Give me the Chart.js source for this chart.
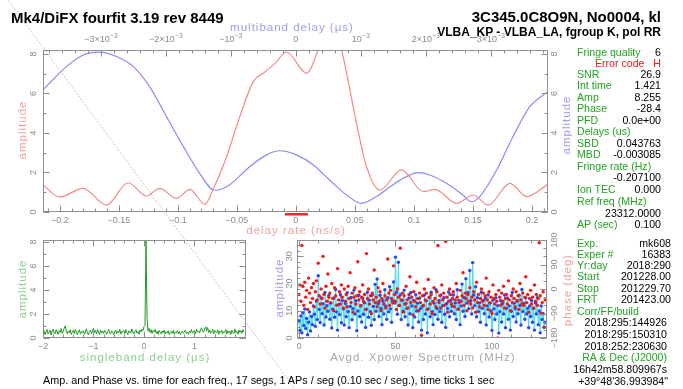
<!DOCTYPE html>
<html>
<head>
<meta charset="utf-8">
<script src="https://cdn.jsdelivr.net/npm/chart.js@4.4.1/dist/chart.umd.min.js"></script>
<style>
html, body { margin: 0; padding: 0; background: #fff; }
#page { position: relative; width: 683px; height: 389px; overflow: hidden; font-family: "Liberation Sans", Arial, sans-serif; }
#page canvas, #page svg { position: absolute; left: 0; top: 0; }
.t { position: absolute; white-space: nowrap; line-height: 1; }
.l { transform: translate(0, -50%); }
.r { transform: translate(-100%, -50%); }
.c { transform: translate(-50%, -50%); }
.v { transform: translate(-50%, -50%) rotate(-90deg); }
.big { font-weight: bold; font-size: 15px; color: #000; }
.sub { font-weight: bold; font-size: 12px; color: #000; }
.ax { font-size: 11.5px; letter-spacing: 1px; }
.pan { font-size: 10.6px; }
.cap { font-size: 10.8px; color: #000; }
</style>
</head>
<body>
<div id="page">
  <canvas id="cTop" width="683" height="389"></canvas>
  <canvas id="cSbd" width="683" height="389"></canvas>
  <canvas id="cXp" width="683" height="389"></canvas>
  <svg width="683" height="389"><line x1="8" y1="0" x2="295" y2="389" stroke="#c4c4c4" stroke-width="1" stroke-dasharray="2 1.5"/></svg>
</div>
<script>
// delay rate function (ns/s) and its amplitude
const rateNs = [-0.2142, -0.2, -0.1803, -0.1604, -0.1421, -0.1265, -0.1153, -0.1011, -0.0898, -0.0771,
  -0.0701, -0.0587, -0.0475, -0.036, -0.026, -0.018, -0.0079, 0.0091, 0.0189, 0.029, 0.0387,
  0.0514, 0.0599, 0.0712, 0.0896, 0.1079, 0.1178, 0.1362, 0.1503, 0.163, 0.1814, 0.1955, 0.2136];
const rateAmp = [1.37, 0.76, 1.2, 0.35, 1.48, 0.81, 1.2, 0.69, 1.15, 0.39,
  1.15, 2.8, 4.83, 6.6, 7.1, 7.5, 8.1, 7.02, 8.2, 9.8, 8.2,
  4.49, 2.29, 1.11, 2.13, 1.03, 1.15, 0.44, 0.86, 0.35, 1.45, 0.78, 1.4];

// multiband delay function (us) and its amplitude
const mbdUs = [-0.00389, -0.00353, -0.00327, -0.00302, -0.00276, -0.0025, -0.00225, -0.00199, -0.00173, -0.00148,
  -0.00125, -0.00105, -0.00071, -0.00045, -0.00025, 0.00001, 0.00027, 0.00052, 0.00078, 0.00101,
  0.00124, 0.00145, 0.0017, 0.00188, 0.00206, 0.00232, 0.00257, 0.0027, 0.00283, 0.00309,
  0.00334, 0.0036, 0.00388];
const mbdAmp = [6.18, 7.36, 7.95, 8.09, 7.87, 7.36, 6.35, 4.83, 3.31, 1.96,
  1.1, 1.3, 2.29, 2.89, 3.1, 2.89, 2.38, 1.62, 0.86, 0.44,
  0.78, 1.28, 1.79, 1.99, 1.87, 1.45, 0.86, 0.52, 0.78, 2.13,
  3.81, 5.33, 6.1];

// rate search window marked under the delay-rate axis (ns/s)
const rateWindow = [-0.0093, 0.0102];

// singleband delay function, samples every 0.02 us from -2 us
const sbdStart = -2, sbdStep = 0.02;
const sbdAmp = [
  0.45,0.62,0.28,0.55,0.71,0.33,0.48,0.66,0.25,0.58,0.74,0.41,0.36,0.69,0.52,0.30,0.61,0.47,0.78,0.39,
  0.56,0.82,1.02,0.64,0.35,0.57,0.43,0.70,0.29,0.51,0.63,0.38,0.72,0.46,0.27,0.59,0.68,0.34,0.53,0.44,
  0.60,0.31,0.49,0.77,0.40,0.26,0.54,0.65,0.37,0.58,0.81,0.45,0.62,0.33,0.71,0.50,0.28,0.66,0.43,0.57,
  0.39,0.64,0.47,0.30,0.55,0.72,0.41,0.35,0.60,0.48,0.27,0.52,0.67,0.38,0.58,0.44,0.73,0.32,0.56,0.49,
  0.63,0.36,0.70,0.45,0.29,0.61,0.53,0.40,0.76,0.47,0.34,0.59,0.68,0.42,0.55,0.31,0.66,0.50,0.74,0.62,
  0.95,1.05,8.15,1.70,0.58,0.80,0.46,0.69,0.37,0.62,0.51,0.73,0.40,0.57,0.30,0.64,0.48,0.36,0.59,0.44,
  0.67,0.33,0.52,0.41,0.60,0.28,0.47,0.56,0.38,0.65,0.32,0.50,0.43,0.61,0.35,0.54,0.29,0.46,0.58,0.39,
  0.52,0.66,0.37,0.48,0.31,0.57,0.44,0.70,0.40,0.53,0.62,0.36,0.75,0.49,0.59,0.42,0.68,0.85,0.55,0.47,
  0.72,0.94,0.61,0.88,0.45,0.67,0.39,0.56,0.74,0.34,0.63,0.50,0.41,0.69,0.30,0.58,0.46,0.64,0.37,0.54,
  0.48,0.71,0.33,0.60,0.42,0.57,0.29,0.65,0.50,0.38,0.76,0.44,0.55,0.31,0.68,0.47,0.62,0.40,0.70,0.52];

// averaged cross-power spectrum, 0.5 MHz channels from 0 MHz
const xpStep = 0.5;
const xpAmp = [
  6.4,2.8,8.1,1.9,9.3,4.6,10.7,3.5,7.2,1.2,5.8,9.6,2.6,7.9,4.9,11.8,
  8.7,4.3,13.6,6.8,22.9,10.5,5.7,14.8,8.9,12.6,4.8,16.7,7.7,11.9,9.8,15.6,
  6.9,12.8,3.7,10.6,14.7,7.6,17.8,9.6,2.9,12.3,8.6,15.9,5.6,13.8,10.7,4.8,
  12.7,7.8,16.6,9.7,3.8,11.6,14.9,6.7,10.8,17.6,8.8,13.7,2.7,9.9,15.7,7.9,
  11.8,5.9,14.6,8.7,12.9,3.9,10.6,16.8,7.6,13.9,9.7,4.7,15.8,11.6,6.8,19.7,
  9.8,21.7,12.7,7.9,15.7,10.8,4.9,13.6,8.8,17.7,11.7,6.9,14.8,9.6,18.8,10.7,
  5.8,13.7,20.6,12.8,29.7,16.8,8.7,27.8,11.9,15.8,6.8,13.9,9.8,17.6,7.8,12.7,
  10.9,4.8,14.7,8.9,16.7,11.8,3.8,13.8,7.7,15.9,9.9,12.8,5.9,14.7,10.8,2.9,
  11.7,6.8,15.8,8.8,13.7,1.9,10.7,14.9,7.8,16.8,9.7,4.9,12.8,8.6,17.7,10.8,
  6.9,13.8,9.7,15.8,5.8,11.9,14.8,8.7,3.9,12.7,10.8,16.9,7.8,13.7,9.8,11.7,
  15.8,8.9,12.9,6.8,17.7,10.7,13.8,4.9,11.8,19.8,9.8,14.9,7.9,21.8,12.8,16.7,
  10.8,24.8,13.7,8.8,27.7,15.8,11.9,18.8,7.8,14.8,9.7,12.9,5.8,16.8,10.9,13.8,
  8.9,14.7,4.8,11.8,15.9,7.7,12.8,9.9,2.8,13.9,10.7,6.8,14.8,8.8,11.9,1.8,
  9.7,13.8,5.9,12.7,8.8,15.8,3.8,10.9,14.7,6.9,11.8,2.9,9.8,16.7,7.9,12.8,
  10.8,5.9,13.8,8.9,15.7,11.9,4.8,17.8,9.7,12.8,6.9,14.8,8.8,10.9,3.8,11.8,
  7.9,13.8,5.8,10.8,2.9,12.9,8.8,14.8,4.9,9.9,1.9,11.8,6.8,8.9,3.9,5.8];
const xpPhase = [
  -20,15,-45,160,10,-60,25,-30,-5,-75,40,-15,-50,5,-35,20,
  -65,-10,30,-40,95,-25,-55,0,-35,120,-20,-70,10,-45,55,-30,
  -15,-50,20,-35,-80,5,-25,-60,75,-40,-10,-55,15,-30,-70,0,
  -45,-20,-65,10,-35,60,-50,-15,-85,-30,5,-55,-25,100,-40,-10,
  -60,-30,15,-45,-20,-75,130,-35,0,-55,-25,-90,-15,-40,70,-50,
  -30,-65,5,-45,-10,-80,-35,20,-55,-25,-70,-40,110,-15,-60,-5,
  -35,-50,85,-20,-45,-75,0,-30,-60,150,-40,-15,-85,-25,-55,10,
  -40,-70,-20,45,-50,-30,-95,-10,-45,-65,25,-35,-80,-15,-50,-170,
  -25,-60,0,-40,-15,-75,35,-30,-55,-20,-90,-45,5,-35,-65,-10,
  160,-50,-25,-70,15,-40,-15,-60,175,-30,-85,-45,0,-20,-55,-35,
  -10,-65,-40,20,-30,-75,-50,-5,-45,-25,60,-60,-15,-35,-80,-20,
  -45,5,-55,-30,-70,-10,-40,-85,25,-50,-20,-65,-35,0,-45,-15,
  -60,-25,40,-40,-75,-10,-50,-30,-90,15,-35,-55,-20,-45,-180,-5,
  -30,-60,-15,-45,10,-70,-35,-20,-55,30,-40,-80,-25,-50,0,-35,
  -65,-10,-45,-25,-75,20,-40,-55,-15,-60,-30,45,-50,-20,-85,-35,
  -5,-55,-30,-70,15,-45,-20,-60,-35,170,-25,-90,-50,-10,-140,-40];

const FRAME = '#8e8e8e';
const TICKTXT = '#8a8a8a';
const LIGHT_RED = '#f08a8a';
const LIGHT_BLUE = '#8a8af2';
const TITLE_RED = '#f2a0a0';
const TITLE_BLUE = '#9c9cf2';
const TITLE_GREEN = '#8fce8f';

// minus sign like the plotting package uses
function signed(v) {
  const s = String(Math.abs(+v.toFixed(4)));
  return v < -1e-12 ? '\u2212' + s : s;
}

function stepsIn(scale, step) {
  const out = [];
  const k0 = Math.ceil(scale.min / step - 1e-6);
  const k1 = Math.floor(scale.max / step + 1e-6);
  for (let k = k0; k <= k1; k++) out.push(k * step);
  return out;
}

function drawLabel(ctx, lab, x, y, rotate) {
  const base = typeof lab === 'string' ? lab : lab.base;
  const sup = typeof lab === 'string' ? '' : lab.sup;
  ctx.save();
  ctx.translate(x, y);
  if (rotate) ctx.rotate(-Math.PI / 2);
  ctx.fillStyle = TICKTXT;
  ctx.textBaseline = 'middle';
  ctx.font = '9px "Liberation Sans"';
  const wb = ctx.measureText(base).width;
  ctx.font = '6.5px "Liberation Sans"';
  const ws = sup ? ctx.measureText(sup).width + 0.5 : 0;
  const x0 = -(wb + ws) / 2;
  ctx.textAlign = 'left';
  ctx.font = '9px "Liberation Sans"';
  ctx.fillText(base, x0, 0);
  if (sup) {
    ctx.font = '6.5px "Liberation Sans"';
    ctx.fillText(sup, x0 + wb + 0.5, -4);
  }
  ctx.restore();
}

// boxed frame with inward ticks on every side, labels from the scales
const frameTicks = {
  id: 'frameTicks',
  afterDatasetsDraw(chart, args, opts) {
    const ctx = chart.ctx, a = chart.chartArea;
    ctx.save();
    ctx.strokeStyle = FRAME;
    ctx.lineWidth = 1;
    const L = Math.round(a.left) + 0.5, R = Math.round(a.right) - 0.5;
    const T = Math.round(a.top) + 0.5, B = Math.round(a.bottom) - 0.5;
    ctx.strokeRect(L, T, R - L, B - T);
    for (const ax of opts.axes) {
      const s = chart.scales[ax.id];
      ctx.beginPath();
      stepsIn(s, ax.minor).forEach(v => {
        const major = Math.abs(v / ax.major - Math.round(v / ax.major)) < 1e-6;
        const len = major ? 6 : 3;
        const p = Math.round(s.getPixelForValue(v)) + 0.5;
        if (ax.side === 'bottom') { ctx.moveTo(p, B); ctx.lineTo(p, B - len); }
        if (ax.side === 'top') { ctx.moveTo(p, T); ctx.lineTo(p, T + len); }
        if (ax.side === 'left') { ctx.moveTo(L, p); ctx.lineTo(L + len, p); }
        if (ax.side === 'right') { ctx.moveTo(R, p); ctx.lineTo(R - len, p); }
      });
      ctx.stroke();
      if (!ax.fmt) continue;
      stepsIn(s, ax.major).forEach(v => {
        const lab = ax.fmt(v);
        if (lab === null) return;
        const p = s.getPixelForValue(v);
        if (ax.side === 'bottom') drawLabel(ctx, lab, p, a.bottom + ax.gap, false);
        if (ax.side === 'top') drawLabel(ctx, lab, p, a.top - ax.gap, false);
        if (ax.side === 'left') drawLabel(ctx, lab, a.left - ax.gap, p, true);
        if (ax.side === 'right') drawLabel(ctx, lab, a.right + ax.gap, p, true);
      });
    }
    if (opts.bar) {
      const s = chart.scales[opts.bar.id];
      const x0 = s.getPixelForValue(opts.bar.from), x1 = s.getPixelForValue(opts.bar.to);
      ctx.fillStyle = '#f02a2a';
      ctx.fillRect(x0, a.bottom + 1, x1 - x0, 2.5);
    }
    ctx.restore();
  }
};

const base = {
  responsive: false,
  animation: false,
  devicePixelRatio: 1,
  events: [],
};

function mbdLabel(v) {
  const k = Math.round(v * 1000);
  if (k === 0) return '0';
  if (Math.abs(k) === 1) return { base: (k < 0 ? '\u2212' : '') + '10', sup: '\u22123' };
  return { base: (k < 0 ? '\u2212' : '') + Math.abs(k) + '\u00d710', sup: '\u22123' };
}

// delay rate (red, bottom axis) and multiband delay (blue, top axis)
new Chart(document.getElementById('cTop'), {
  type: 'line',
  data: {
    datasets: [
      {
        data: rateNs.map((x, i) => ({ x: x, y: rateAmp[i] })),
        xAxisID: 'x', yAxisID: 'y',
        borderColor: LIGHT_RED, borderWidth: 1.2, pointRadius: 0,
        cubicInterpolationMode: 'monotone'
      },
      {
        data: mbdUs.map((x, i) => ({ x: x, y: mbdAmp[i] })),
        xAxisID: 'x2', yAxisID: 'y',
        borderColor: LIGHT_BLUE, borderWidth: 1.2, pointRadius: 0,
        cubicInterpolationMode: 'monotone'
      }
    ]
  },
  options: Object.assign({}, base, {
    layout: { padding: { left: 43, top: 50, right: 135, bottom: 177 } },
    scales: {
      x: { type: 'linear', position: 'bottom', display: false, min: -0.2142, max: 0.2136 },
      x2: { type: 'linear', position: 'top', display: false, min: -0.00389, max: 0.00388 },
      y: { type: 'linear', position: 'left', display: false, min: 0, max: 8.2 }
    },
    plugins: {
      legend: { display: false },
      tooltip: { enabled: false },
      frameTicks: {
        axes: [
          { id: 'x', side: 'bottom', major: 0.05, minor: 0.01, gap: 9, fmt: signed },
          { id: 'x2', side: 'top', major: 0.001, minor: 0.0002, gap: 10, fmt: mbdLabel },
          { id: 'y', side: 'left', major: 2, minor: 1, gap: 9, fmt: signed },
          { id: 'y', side: 'right', major: 2, minor: 1, gap: 7, fmt: signed }
        ],
        bar: { id: 'x', from: rateWindow[0], to: rateWindow[1] }
      }
    }
  }),
  plugins: [frameTicks]
});

// singleband delay
new Chart(document.getElementById('cSbd'), {
  type: 'line',
  data: {
    datasets: [{
      data: sbdAmp.map((y, i) => ({ x: sbdStart + i * sbdStep, y: y })),
      borderColor: '#1f9a1f', borderWidth: 1, pointRadius: 0
    }]
  },
  options: Object.assign({}, base, {
    layout: { padding: { left: 43, top: 240, right: 437, bottom: 51 } },
    scales: {
      x: { type: 'linear', display: false, min: -2, max: 2.02 },
      y: { type: 'linear', display: false, min: 0, max: 8.17 }
    },
    plugins: {
      legend: { display: false },
      tooltip: { enabled: false },
      frameTicks: {
        axes: [
          { id: 'x', side: 'bottom', major: 1, minor: 0.2, gap: 9, fmt: v => (v > 1.5 ? null : signed(v)) },
          { id: 'x', side: 'top', major: 1, minor: 0.2 },
          { id: 'y', side: 'left', major: 2, minor: 1, gap: 9, fmt: signed },
          { id: 'y', side: 'right', major: 2, minor: 1 }
        ]
      }
    }
  }),
  plugins: [frameTicks]
});

// cross-power spectrum: amplitude (blue on cyan) and phase (red)
new Chart(document.getElementById('cXp'), {
  type: 'line',
  data: {
    datasets: [
      {
        data: xpPhase.map((y, i) => ({ x: i * xpStep, y: y })),
        yAxisID: 'yp', showLine: false,
        pointRadius: 1.7, pointBorderWidth: 0, pointBackgroundColor: '#f01818'
      },
      {
        data: xpAmp.map((y, i) => ({ x: i * xpStep, y: y })),
        yAxisID: 'y', borderColor: '#45dde6', borderWidth: 1,
        pointRadius: 1.7, pointBorderWidth: 0, pointBackgroundColor: '#2846f5'
      }
    ]
  },
  options: Object.assign({}, base, {
    layout: { padding: { left: 297, top: 240, right: 136, bottom: 51 } },
    scales: {
      x: { type: 'linear', display: false, min: -1, max: 128.5 },
      y: { type: 'linear', position: 'left', display: false, min: 0, max: 36 },
      yp: { type: 'linear', position: 'right', display: false, min: -180, max: 180 }
    },
    plugins: {
      legend: { display: false },
      tooltip: { enabled: false },
      frameTicks: {
        axes: [
          { id: 'x', side: 'bottom', major: 50, minor: 10, gap: 9, fmt: signed },
          { id: 'x', side: 'top', major: 50, minor: 10 },
          { id: 'y', side: 'left', major: 10, minor: 2, gap: 7, fmt: signed },
          { id: 'yp', side: 'right', major: 90, minor: 30, gap: 8, fmt: signed }
        ]
      }
    }
  }),
  plugins: [frameTicks]
});

// text
const page = document.getElementById('page');
function put(txt, x, y, cls, color) {
  const d = document.createElement('div');
  d.className = 't ' + cls;
  d.textContent = txt;
  d.style.left = x + 'px';
  d.style.top = y + 'px';
  if (color) d.style.color = color;
  page.appendChild(d);
}

put('Mk4/DiFX fourfit 3.19 rev 8449', 11, 17, 'l big');
put('3C345.0C8O9N, No0004, kl', 661, 16, 'r big');
put('VLBA_KP - VLBA_LA, fgroup K, pol RR', 661, 32, 'r sub');

put('multiband delay (\u03bcs)', 292, 28, 'c ax', TITLE_BLUE);
put('amplitude', 23, 130, 'v ax', TITLE_RED);
put('amplitude', 567, 125, 'v ax', TITLE_BLUE);
put('delay rate (ns/s)', 296, 231, 'c ax', TITLE_RED);
put('amplitude', 23, 289, 'v ax', TITLE_GREEN);
put('singleband delay (\u03bcs)', 145, 358, 'c ax', TITLE_GREEN);
put('amplitude', 280, 288, 'v ax', TITLE_BLUE);
put('phase (deg)', 568, 290, 'v ax', TITLE_RED);
put('Avgd. Xpower Spectrum (MHz)', 423, 358, 'c ax', '#a8a8a8');

put('Amp. and Phase vs. time for each freq., 17 segs, 1 APs / seg (0.10 sec / seg.), time ticks 1 sec', 43, 380, 'l cap');

const GREEN = '#22a322';
function row(y, label, value, right) {
  if (label) put(label, 577, y, 'l pan', GREEN);
  if (value) put(value, right || 661, y, 'r pan', '#000');
}
row(52, 'Fringe quality', '6');
put('Error code', 595, 63, 'l pan', '#f01818');
put('H', 661, 63, 'r pan', '#f01818');
row(74, 'SNR', '26.9');
row(85, 'Int time', '1.421');
row(97, 'Amp', '8.255');
row(108, 'Phase', '-28.4');
row(120, 'PFD', '0.0e+00');
row(131, 'Delays (us)');
row(143, 'SBD', '0.043763');
row(154, 'MBD', '-0.003085');
row(166, 'Fringe rate (Hz)');
row(177, '', '-0.207100');
row(189, 'Ion TEC', '0.000');
row(201, 'Ref freq (MHz)');
row(213, '', '23312.0000');
row(224, 'AP (sec)', '0.100');
row(243, 'Exp.', 'mk608', 671);
row(254, 'Exper #', '16383', 671);
row(265, 'Yr:day', '2018:290', 671);
row(276, 'Start', '201228.00', 671);
row(288, 'Stop', '201229.70', 671);
row(299, 'FRT', '201423.00', 671);
row(311, 'Corr/FF/build');
row(322, '', '2018:295:144926', 667);
row(334, '', '2018:295:150310', 667);
row(346, '', '2018:252:230630', 667);
put('RA & Dec (J2000)', 667, 357, 'r pan', GREEN);
row(369, '', '16h42m58.809967s', 667);
row(381, '', '+39\u00b048\'36.993984"', 668);
</script>
</body>
</html>
